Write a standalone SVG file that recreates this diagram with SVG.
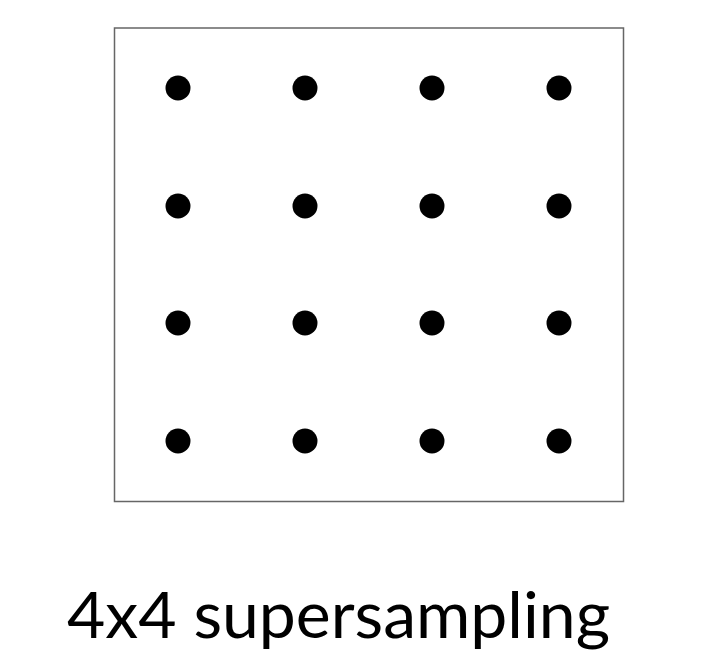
<svg xmlns="http://www.w3.org/2000/svg" width="711" height="668" viewBox="0 0 711 668">
<style>
.frame{fill:#fff;stroke:#666;stroke-width:1.5}
.dot{fill:#000}
.label{font-family:Lato,"Noto Sans","DejaVu Sans",sans-serif;font-weight:400;font-size:63px;fill:#000}
</style>
<rect width="711" height="668" fill="#fff"/>
<g id="frame"><rect class="frame" x="114.5" y="28" width="509" height="473.5"/></g>
<g id="samples">
<circle class="dot" cx="178" cy="88" r="12.5"/><circle class="dot" cx="305" cy="88" r="12.5"/><circle class="dot" cx="432" cy="88" r="12.5"/><circle class="dot" cx="559" cy="88" r="12.5"/>
<circle class="dot" cx="178" cy="206" r="12.5"/><circle class="dot" cx="305" cy="206" r="12.5"/><circle class="dot" cx="432" cy="206" r="12.5"/><circle class="dot" cx="559" cy="206" r="12.5"/>
<circle class="dot" cx="178" cy="323" r="12.5"/><circle class="dot" cx="305" cy="323" r="12.5"/><circle class="dot" cx="432" cy="323" r="12.5"/><circle class="dot" cx="559" cy="323" r="12.5"/>
<circle class="dot" cx="178" cy="441" r="12.5"/><circle class="dot" cx="305" cy="441" r="12.5"/><circle class="dot" cx="432" cy="441" r="12.5"/><circle class="dot" cx="559" cy="441" r="12.5"/>
</g>
<g id="caption"><text class="label" x="67" y="638" textLength="543" lengthAdjust="spacingAndGlyphs">4x4 supersampling</text></g>
</svg>
